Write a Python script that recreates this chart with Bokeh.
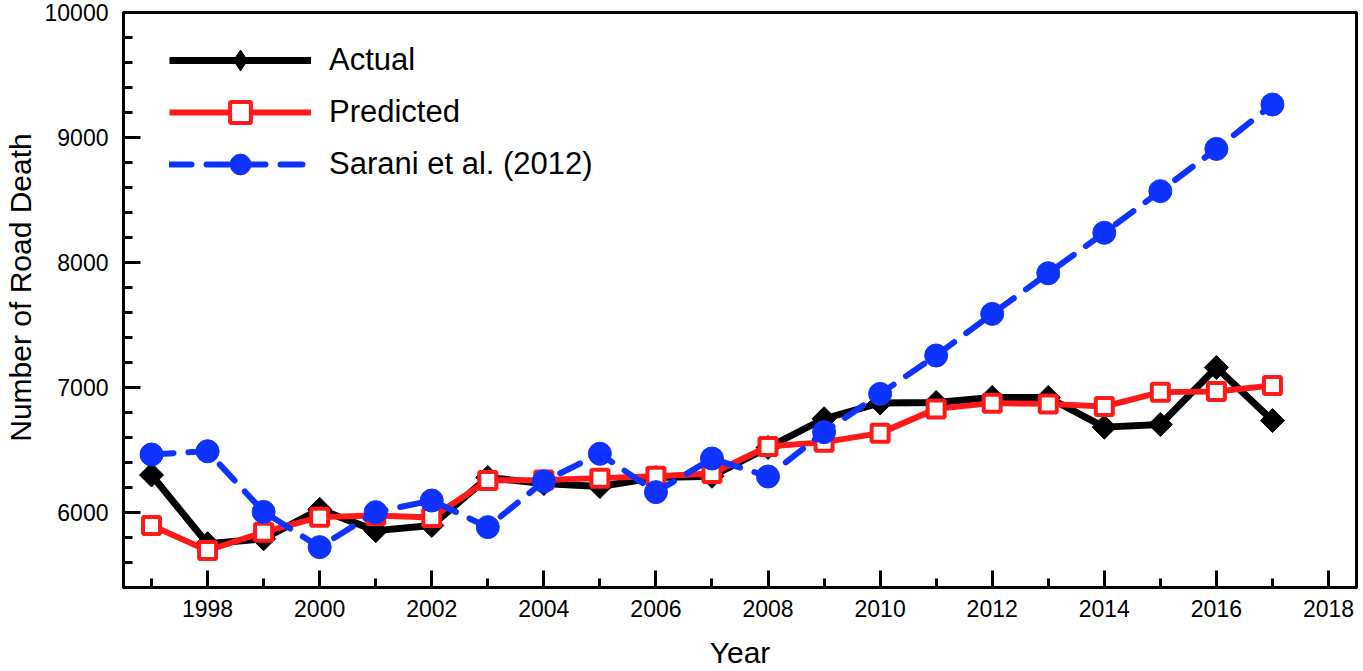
from bokeh.plotting import figure
from bokeh.models import SingleIntervalTicker, Range1d, Legend, LegendItem
from bokeh.embed import file_html
from bokeh.resources import INLINE
import math

years = list(range(1997, 2018))
actual = [6300, 5750, 5790, 6025, 5855, 5896, 6280, 6232, 6208, 6280, 6290,
          6520, 6750, 6876, 6880, 6920, 6920, 6683, 6704, 7160, 6736]
predicted = [5896, 5696, 5843, 5963, 5976, 5960, 6256, 6260, 6275, 6290, 6312,
             6528, 6563, 6635, 6829, 6875, 6869, 6848, 6963, 6968, 7016]
sarani = [6464, 6490, 6005, 5723, 6003, 6096, 5883, 6250, 6470, 6163, 6432,
          6288, 6643, 6949, 7256, 7589, 7914, 8238, 8571, 8909, 9264]

X_START, X_END = 1996.5, 2018.5
Y_START, Y_END = 5400, 10000

FONT = "Liberation Sans"
BLACK = "#000000"
RED = "#FF1A1A"
BLUE = "#0F33FF"

p = figure(width=1363, height=671, output_backend="svg", toolbar_location=None,
           x_range=Range1d(X_START, X_END), y_range=Range1d(Y_START, Y_END),
           min_border_left=123, min_border_right=7, min_border_top=12,
           min_border_bottom=84)

p.xgrid.visible = False
p.ygrid.visible = False
p.outline_line_color = "black"
p.outline_line_width = 3
p.background_fill_color = "white"
p.border_fill_color = "white"

p.xaxis.ticker = SingleIntervalTicker(interval=2, num_minor_ticks=2)
p.yaxis.ticker = SingleIntervalTicker(interval=1000, num_minor_ticks=5)

for ax in (p.xaxis[0], p.yaxis[0]):
    ax.axis_line_width = 3
    ax.major_tick_line_width = 3
    ax.minor_tick_line_width = 3
    ax.major_tick_in = 17
    ax.major_tick_out = 0
    ax.minor_tick_in = 9
    ax.minor_tick_out = 0
    ax.major_label_text_font = FONT
    ax.major_label_text_font_size = "23px"
    ax.major_label_text_color = "black"
    ax.axis_label_text_font = FONT
    ax.axis_label_text_font_size = "30px"
    ax.axis_label_text_font_style = "normal"
    ax.axis_label_text_color = "black"

p.xaxis.axis_label = "Year"
p.yaxis.axis_label = "\u00a0\u00a0\u00a0Number of Road Death"
p.xaxis.major_label_standoff = 12
p.yaxis.major_label_standoff = 15
p.xaxis.axis_label_standoff = 16
p.yaxis.axis_label_standoff = 5

# Actual
la = p.line(years, actual, line_color=BLACK, line_width=7, line_join="round")
ld = p.scatter(years, actual, marker="diamond", size=1, fill_color=BLACK,
               line_color=BLACK, line_width=1)  # drawn for the legend swatch
ma = p.scatter(years, actual, marker="square", size=17, angle=math.pi / 4,
               fill_color=BLACK, line_color=BLACK, line_width=1)
# Predicted
lp = p.line(years, predicted, line_color=RED, line_width=6, line_join="round")
mp = p.scatter(years, predicted, marker="square", size=17, fill_color="white",
               line_color=RED, line_width=4)
# Sarani
ls = p.line(years, sarani, line_color=BLUE, line_width=6, line_dash="22 15",
            line_cap="round", line_join="round")
ms = p.scatter(years, sarani, marker="circle", size=23, fill_color=BLUE,
               line_color=BLUE, line_width=1)

legend = Legend(items=[
    LegendItem(label="Actual", renderers=[la, ld]),
    LegendItem(label="Predicted", renderers=[lp, mp]),
    LegendItem(label="Sarani et al. (2012)", renderers=[ls, ms]),
], location=(46, 397))
legend.glyph_width = 142
legend.glyph_height = 52
legend.label_height = 52
legend.spacing = 0
legend.padding = 0
legend.margin = 0
legend.label_standoff = 18
legend.label_text_font = FONT
legend.label_text_font_size = "31px"
legend.label_text_color = "black"
legend.border_line_color = None
legend.background_fill_alpha = 0
p.add_layout(legend, "center")

open("out.html", "w").write(file_html(p, INLINE))
